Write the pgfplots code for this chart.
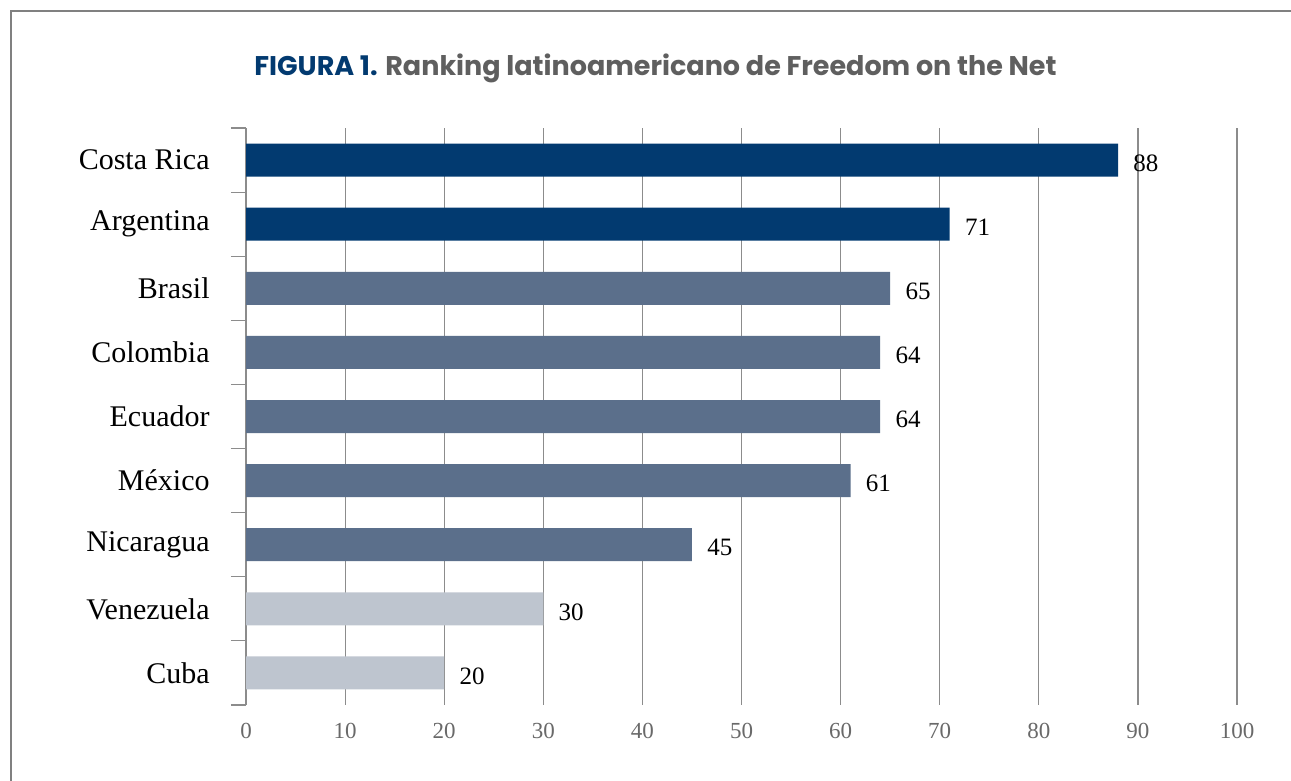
\documentclass[border=0pt]{standalone}
\usepackage{pgfplots}
\pgfplotsset{compat=1.18}
\usepackage{fontspec}
\setmainfont{Liberation Serif}
\newfontfamily\titlefont{Poppins}
\definecolor{navy}{RGB}{2,58,112}
\definecolor{midblue}{RGB}{91,111,139}
\definecolor{lightbar}{RGB}{190,197,207}
\definecolor{gridgray}{RGB}{140,140,140}
\definecolor{ticktext}{RGB}{105,105,105}
\definecolor{titlegray}{RGB}{95,95,95}
\begin{document}
\begin{tikzpicture}
\path[use as bounding box] (0,0) rectangle (645.5pt,390.5pt);
\draw[color=gray, line width=1pt] (5.25pt,0) -- (5.25pt,385pt) -- (645.5pt,385pt);
\node[font=\titlefont\fontsize{13.5}{16}\selectfont\bfseries] at (327.75pt,356.5pt)
  {\textcolor{navy}{FIGURA 1.} \textcolor{titlegray}{Ranking latinoamericano de Freedom on the Net}};
\begin{axis}[
  at={(123pt,38pt)}, anchor=south west,
  scale only axis, width=495.5pt, height=288.5pt,
  xbar, bar width=16.5pt,
  xmin=0, xmax=100, ymin=-0.5, ymax=8.5,
  enlargelimits=false, clip=false,
  axis line style={draw=none},
  xtick={0,10,...,100},
  xmajorgrids, grid style={gridgray, line width=0.6pt},
  ytick={0,...,8},
  yticklabels={Cuba,Venezuela,Nicaragua,México,Ecuador,Colombia,Brasil,Argentina,Costa Rica},
  minor ytick={-0.5,0.5,...,8.5},
  major tick length=0pt, minor tick length=7.5pt,
  tick align=outside, tick pos=left,
  tick style={gridgray, line width=0.6pt},
  yticklabel style={font=\fontsize{15}{18}\selectfont, inner sep=0pt, xshift=-18pt, anchor=east},
  xticklabel style={font=\fontsize{11.5}{14}\selectfont, text=ticktext, inner sep=0pt, yshift=-9pt, anchor=north},
  /pgf/number format/assume math mode=true,
  nodes near coords,
  nodes near coords style={font=\fontsize{12.5}{15}\selectfont, anchor=west, inner sep=0pt, xshift=7.5pt, yshift=-1.5pt, text=black},
]
\addplot[fill=navy, draw=none, bar shift=0pt] coordinates {(88,8) (71,7)};
\addplot[fill=midblue, draw=none, bar shift=0pt] coordinates {(65,6) (64,5) (64,4) (61,3) (45,2)};
\addplot[fill=lightbar, draw=none, bar shift=0pt] coordinates {(30,1) (20,0)};
\end{axis}
\end{tikzpicture}
\end{document}
